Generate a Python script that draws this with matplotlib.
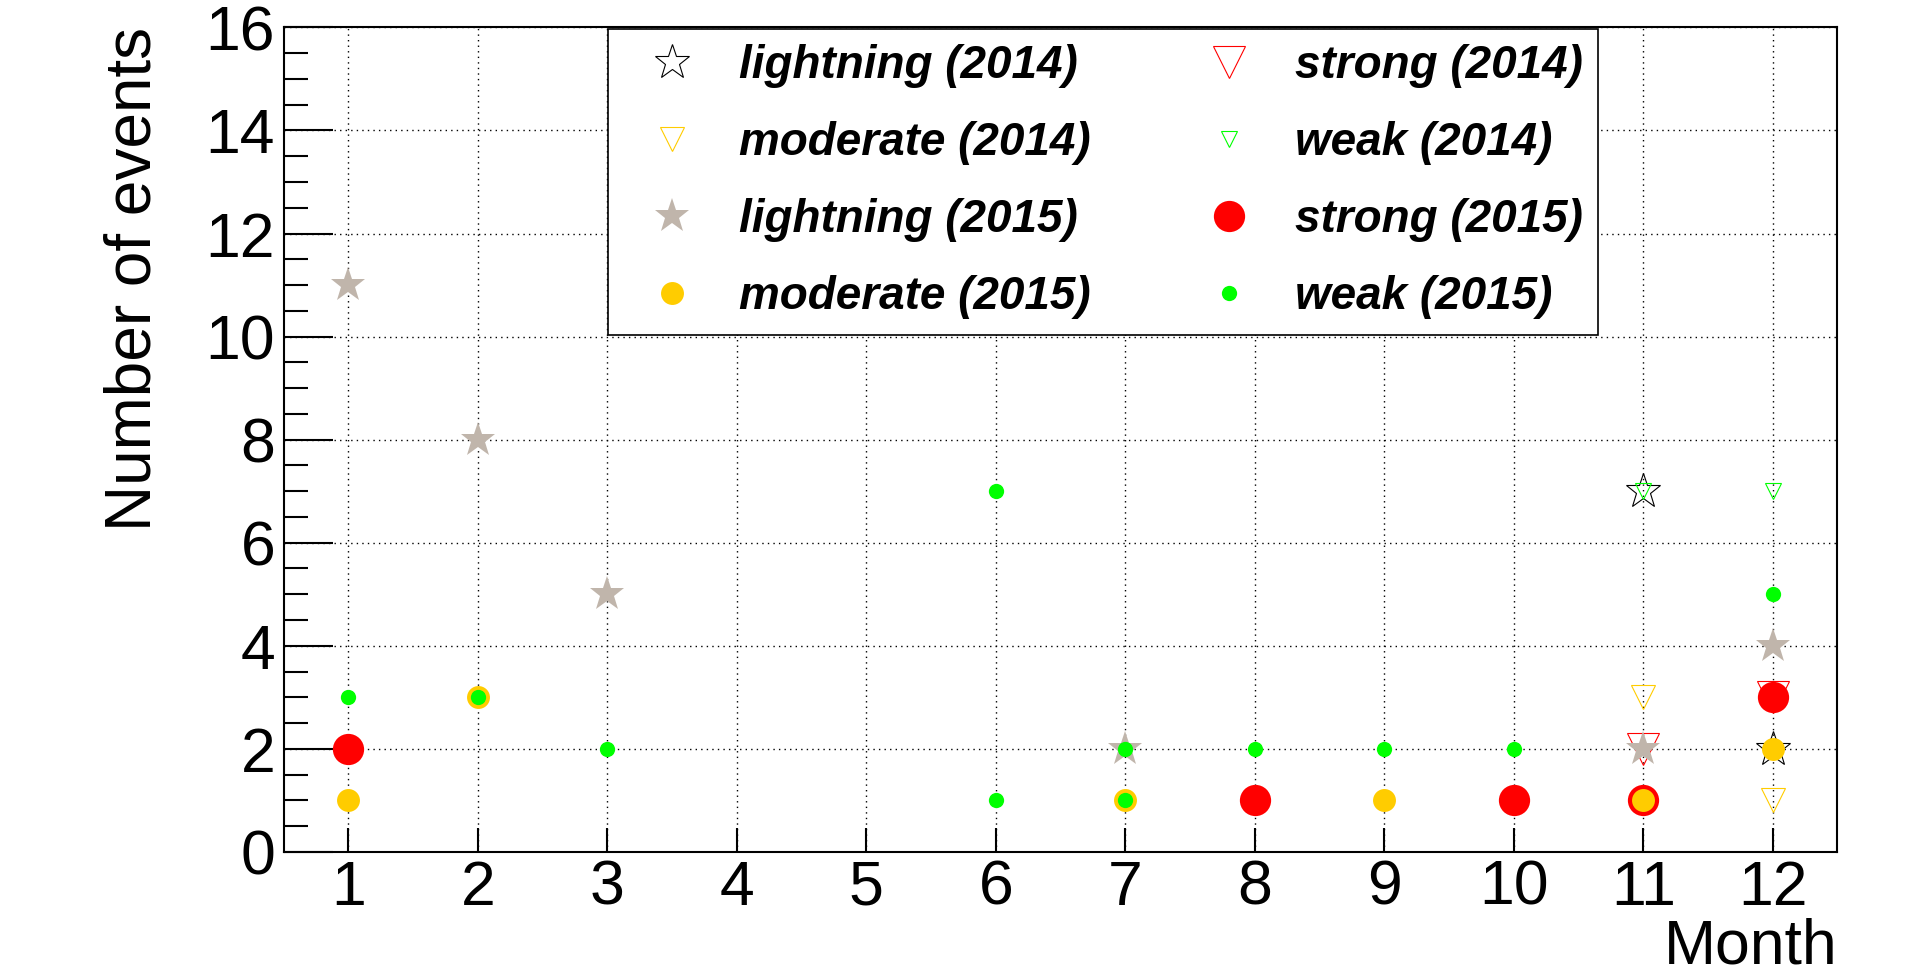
import matplotlib
matplotlib.use("Agg")
import matplotlib.pyplot as plt

plt.rcParams['font.family'] = ['Liberation Sans', 'DejaVu Sans']

# Anzahl Ereignisse pro Monat
months_l14 = [11, 12]
vals_l14 = [7, 2]
months_s14 = [11, 12]
vals_s14 = [2, 3]
months_m14 = [11, 12]
vals_m14 = [3, 1]
months_w14 = [11, 12]
vals_w14 = [7, 7]

months_l15 = [1, 2, 3, 7, 11, 12]
vals_l15 = [11, 8, 5, 2, 2, 4]
months_s15 = [1, 8, 10, 11, 12]
vals_s15 = [2, 1, 1, 1, 3]
months_m15 = [1, 2, 7, 9, 11, 12]
vals_m15 = [1, 3, 1, 1, 1, 2]
months_w15 = [1, 2, 3, 6, 6, 7, 7, 8, 9, 10, 12]
vals_w15 = [3, 3, 2, 7, 1, 2, 1, 2, 2, 2, 5]

labels = ["lightning (2014)", "strong (2014)", "moderate (2014)", "weak (2014)",
          "lightning (2015)", "strong (2015)", "moderate (2015)", "weak (2015)"]

grau = "#c0b5ab"
gelb = "#ffcc00"
gruen = "#00ff00"
rot = "#ff0000"

fig = plt.figure(figsize=(19.16, 9.77), dpi=100)
ax = fig.add_axes([0.148, 0.128, 0.811, 0.844])

h = []
h += ax.plot(months_l14, vals_l14, ls="none", marker="*", ms=26, mfc="none", mec="black", mew=0.8)
h += ax.plot(months_s14, vals_s14, ls="none", marker="v", ms=23, mfc="none", mec=rot, mew=0.8)
h += ax.plot(months_m14, vals_m14, ls="none", marker="v", ms=17.5, mfc="none", mec=gelb, mew=0.8)
h += ax.plot(months_w14, vals_w14, ls="none", marker="v", ms=11.5, mfc="none", mec=gruen, mew=0.8)
h += ax.plot(months_l15, vals_l15, ls="none", marker="*", ms=26, mfc=grau, mec=grau, mew=0)
h += ax.plot(months_s15, vals_s15, ls="none", marker="o", ms=22.5, mfc=rot, mec=rot, mew=0)
h += ax.plot(months_m15, vals_m15, ls="none", marker="o", ms=16.5, mfc=gelb, mec=gelb, mew=0)
h += ax.plot(months_w15, vals_w15, ls="none", marker="o", ms=11, mfc=gruen, mec=gruen, mew=0)

ax.set_xlim(0.5, 12.5)
ax.set_ylim(0, 16)
ax.set_xticks(range(1, 13))
ax.set_yticks(range(0, 17, 2))
ax.set_yticks([i * 0.5 for i in range(33)], minor=True)
ax.grid(True, which="major", color="black", ls=(0, (1, 3)), lw=1)

ax.tick_params(axis="both", which="major", direction="in", labelsize=45, width=1.5)
ax.tick_params(axis="y", which="major", length=35, pad=6)
ax.tick_params(axis="y", which="minor", direction="in", length=17, width=1.5)
ax.tick_params(axis="x", which="major", length=17, pad=5)
for s in ax.spines.values():
    s.set_linewidth(1.5)

ax.set_ylabel("Number of events", fontsize=46, loc="top")
ax.yaxis.set_label_coords(-0.077, 1.0)
ax.set_xlabel("Month", fontsize=45, loc="right")
ax.xaxis.set_label_coords(1.0, -0.079)

reihe = [0, 2, 4, 6, 1, 3, 5, 7]
leg = ax.legend([h[i] for i in reihe], [labels[i] for i in reihe], ncol=2,
                loc="upper left", bbox_to_anchor=(0.209, 0.9976),
                borderaxespad=0, fancybox=False, frameon=True,
                edgecolor="black", framealpha=1,
                prop={"size": 33, "weight": "bold", "style": "italic"},
                handlelength=2.12, handletextpad=0.4, borderpad=0.33,
                labelspacing=0.72, columnspacing=1.95, numpoints=1)
leg.get_frame().set_linewidth(1.2)

fig.savefig("out.png", dpi=100)
